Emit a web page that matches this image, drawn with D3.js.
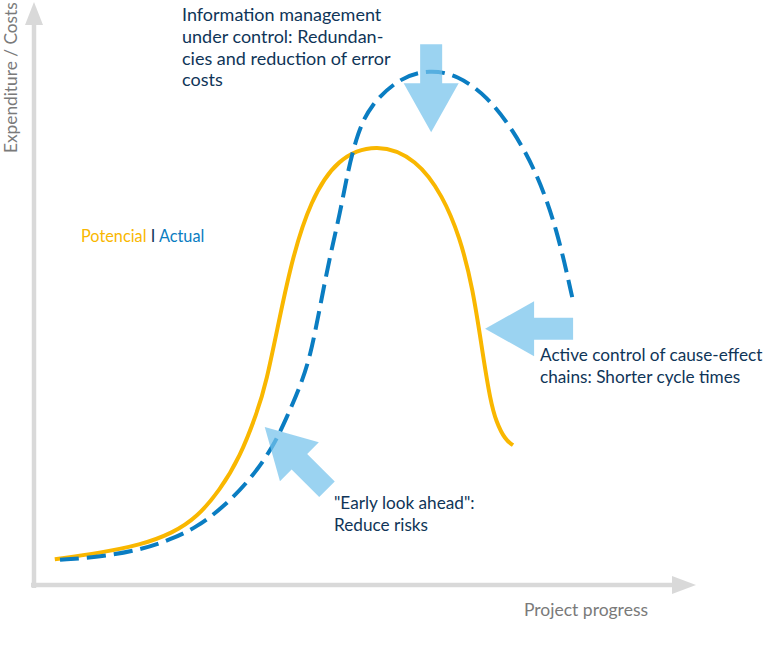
<!DOCTYPE html>
<html>
<head>
<meta charset="utf-8">
<script src="https://cdn.jsdelivr.net/npm/d3@7"></script>
<style>
  body { margin: 0; background: #fff; }
  svg { display: block; font-family: Lato, "Noto Sans", sans-serif; }
</style>
</head>
<body>
<script>
// curve readings, x = project progress (0-100), y = expenditure (0-100)
const progressPotential = [3.2, 10.2, 16.3, 21.4, 25.1, 28.6, 31.7, 34.3, 35.7, 37.8, 39.8, 42.5, 46.6, 52.8, 58.9, 62.9, 65.5, 67.5, 69.1, 70.2, 71.1, 72.5, 73.7];
const costPotential     = [4.4, 5.5, 6.8, 8.9, 11.6, 16.2, 21.9, 29.4, 34.4, 45.8, 56.1, 65.6, 73.0, 75.6, 72.8, 66.5, 59.5, 50.9, 39.0, 31.6, 27.9, 24.8, 23.9];

const progressActual = [4.0, 10.2, 16.3, 20.9, 25.1, 29.1, 33.2, 36.8, 38.9, 40.9, 42.5, 44.0, 45.5, 47.1, 48.3, 49.8, 51.7, 56.3, 60.9, 65.1, 69.7, 73.7, 77.4, 80.5, 82.8];
const costActual     = [4.3, 4.8, 6.0, 7.7, 9.9, 13.3, 17.9, 23.6, 28.7, 33.8, 39.0, 47.5, 56.1, 63.6, 70.9, 77.3, 82.0, 86.8, 88.1, 87.2, 83.6, 77.8, 70.4, 60.7, 49.2];

// arrow tips (data units) and the direction they point to (degrees)
const arrowProgress = [61.1, 69.4, 35.5];
const arrowCost     = [77.4, 43.8, 27.0];
const arrowAngle    = [90, 180, 225];

const notes = [
  ["Information management", "under control: Redundan-", "cies and reduction of error", "costs"],
  ["Active control of cause-effect", "chains: Shorter cycle times"],
  ["\"Early look ahead\":", "Reduce risks"]
];

const width = 768, height = 645;
const svg = d3.select('body').append('svg')
  .attr('width', width).attr('height', height);

const x = d3.scaleLinear().domain([0, 100]).range([34, 684]);
const y = d3.scaleLinear().domain([0, 100]).range([585, 0]);

const axisColor = '#d9d9d9';
// axes
svg.append('line')
  .attr('x1', x(0)).attr('x2', x(0))
  .attr('y1', y(0) + 3).attr('y2', y(100) + 20)
  .style('stroke', axisColor).style('stroke-width', 4.5);
svg.append('path')
  .attr('d', `M${x(0) - 9},${y(100) + 25} L${x(0)},${y(100) + 2} L${x(0) + 9},${y(100) + 25} Z`)
  .style('fill', axisColor);
svg.append('line')
  .attr('x1', x(0) - 3).attr('x2', x(100) - 10)
  .attr('y1', y(0)).attr('y2', y(0))
  .style('stroke', axisColor).style('stroke-width', 4.5);
svg.append('path')
  .attr('d', `M${x(100) - 12},${y(0) - 9} L${x(100) + 12},${y(0)} L${x(100) - 12},${y(0) + 9} Z`)
  .style('fill', axisColor);

svg.append('text')
  .attr('transform', `translate(17,153) rotate(-90)`)
  .style('fill', '#7a7a7a').style('font-size', '17.3px')
  .text('Expenditure  / Costs');
svg.append('text')
  .attr('x', 524).attr('y', 616)
  .style('fill', '#7a7a7a').style('font-size', '17.5px')
  .text('Project progress');

// curves
const line = d3.line()
  .x(d => x(d[0])).y(d => y(d[1]))
  .curve(d3.curveBasis);

svg.append('path')
  .datum(d3.zip(progressPotential, costPotential))
  .attr('d', line)
  .style('fill', 'none').style('stroke', '#f9b700').style('stroke-width', 4);

svg.append('path')
  .datum(d3.zip(progressActual, costActual))
  .attr('d', line)
  .style('fill', 'none').style('stroke', '#0a7dc2').style('stroke-width', 4)
  .style('stroke-dasharray', '19 8');

// arrows
const L = 88, H = 49, HW = 55, SW = 22;
const arrowShape = `M0,0 L${-H},${-HW / 2} L${-H},${-SW / 2} L${-L},${-SW / 2} L${-L},${SW / 2} L${-H},${SW / 2} L${-H},${HW / 2} Z`;
svg.selectAll('.arrow')
  .data(d3.zip(arrowProgress, arrowCost, arrowAngle))
  .join('path')
  .attr('class', 'arrow')
  .attr('d', arrowShape)
  .attr('transform', d => `translate(${x(d[0])},${y(d[1])}) rotate(${d[2]})`)
  .style('fill', '#74c2ec').style('opacity', 0.72);

// legend
const legend = svg.append('text').attr('x', 81).attr('y', 242).style('font-size', '16.3px');
legend.append('tspan').style('fill', '#f9b700').text('Potencial ');
legend.append('tspan').style('fill', '#0f3558').text('I ');
legend.append('tspan').style('fill', '#0a7dc2').text('Actual');

// notes
const notePos = [[182, 21], [540, 361], [334, 509]];
const noteSize = [18, 17.2, 17.2];
notes.forEach((lines, i) => {
  const t = svg.append('text')
    .attr('x', notePos[i][0]).attr('y', notePos[i][1])
    .style('fill', '#0f3558').style('font-size', noteSize[i] + 'px');
  lines.forEach((s, j) => {
    t.append('tspan').attr('x', notePos[i][0]).attr('dy', j ? 21.8 : 0).text(s);
  });
});
</script>
</body>
</html>
